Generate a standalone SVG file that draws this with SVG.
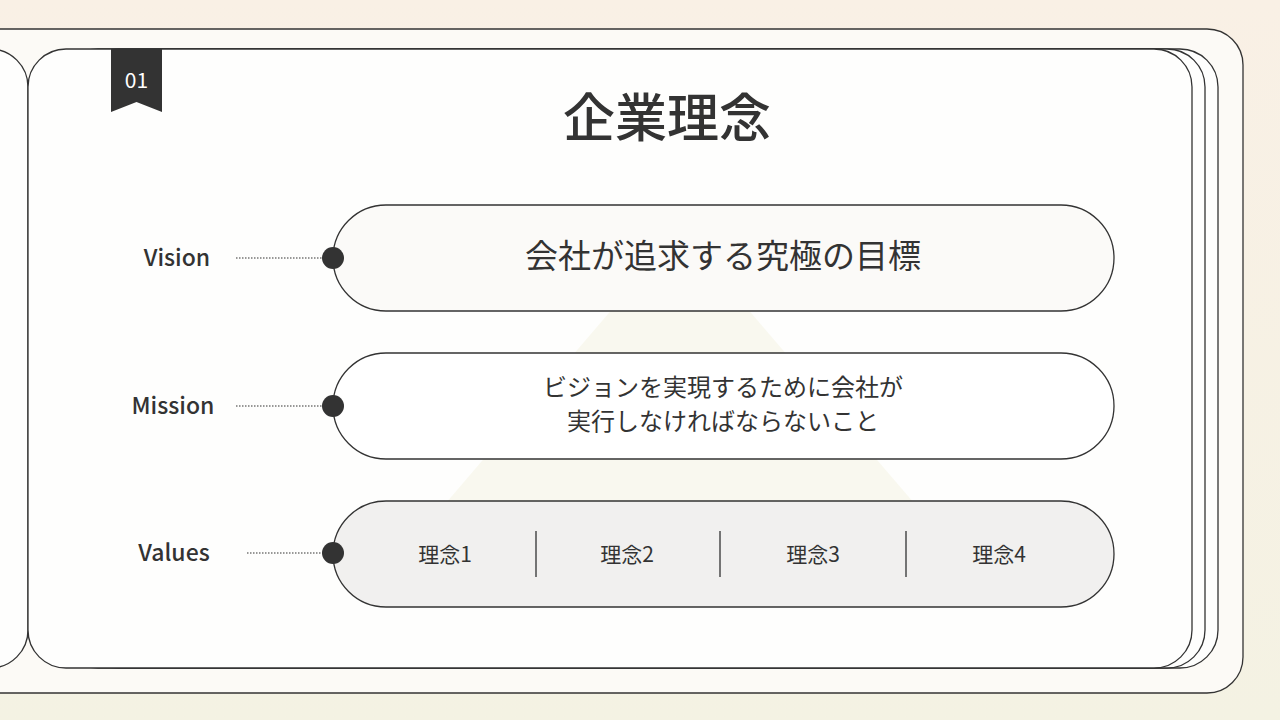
<svg xmlns="http://www.w3.org/2000/svg" width="1280" height="720" viewBox="0 0 1280 720">
  <defs>
    <linearGradient id="bg" x1="0" y1="0" x2="0" y2="1">
      <stop offset="0" stop-color="#f9f0e5"/>
      <stop offset="1" stop-color="#f4f2e3"/>
    </linearGradient>
    <style>
      .frame { stroke: #333333; stroke-width: 1.3; }
      .pill { stroke: #333333; stroke-width: 1.3; }
      .dot { fill: #333333; }
      .lead { stroke: #333333; stroke-width: 1.2; stroke-dasharray: 1.5 1.5; fill: none; }
      .label { font-family: "Noto Sans CJK JP", "Noto Sans", sans-serif; font-size: 23px; font-weight: 500; fill: #333333; text-anchor: middle; }
      .txt { font-family: "Noto Sans CJK JP", "Noto Sans", sans-serif; fill: #333333; text-anchor: middle; }
      .div { stroke: #555555; stroke-width: 1.6; }
    </style>
  </defs>

  <!-- background -->
  <rect x="0" y="0" width="1280" height="720" fill="url(#bg)"/>
  <rect class="frame" x="-60" y="29" width="1303" height="664" rx="36" fill="#fcfaf6"/>

  <!-- stacked cards -->
  <g id="cards">
    <rect class="frame" x="-400" y="49" width="428" height="619" rx="38" fill="#fefefd"/>
    <rect class="frame" x="80" y="49" width="1138" height="619" rx="38" fill="#fefefd"/>
    <rect class="frame" x="60" y="49" width="1145" height="619" rx="38" fill="#fefefd"/>
    <rect class="frame" x="28" y="49" width="1164" height="619" rx="38" fill="#fefefd"/>
  </g>

  <!-- faint pyramid -->
  <polygon points="680,230 440,510 920,510" fill="#f3f1d9" opacity="0.4"/>

  <!-- bookmark tag -->
  <g id="tag">
    <polygon points="111,49 162,49 162,112 136.5,102 111,112" fill="#333333"/>
    <text class="txt" x="136.5" y="88" font-size="21" style="fill:#ffffff">01</text>
  </g>

  <!-- title -->
  <g id="title">
    <text class="txt" x="667" y="137" font-size="52" font-weight="500">企業理念</text>
  </g>

  <!-- connectors -->
  <g id="connectors">
    <line class="lead" x1="236" y1="258" x2="324" y2="258"/>
    <line class="lead" x1="236" y1="406" x2="324" y2="406"/>
    <line class="lead" x1="247" y1="553" x2="324" y2="553"/>
  </g>

  <!-- Vision -->
  <g id="vision">
    <text class="label" x="177" y="266">Vision</text>
    <rect class="pill" x="333" y="205" width="781" height="106" rx="53" fill="#fbfaf8"/>
    <circle class="dot" cx="333" cy="258" r="11"/>
    <text class="txt" x="723" y="268" font-size="33">会社が追求する究極の目標</text>
  </g>

  <!-- Mission -->
  <g id="mission">
    <text class="label" x="173" y="414">Mission</text>
    <rect class="pill" x="333" y="353" width="781" height="106" rx="53" fill="#ffffff"/>
    <circle class="dot" cx="333" cy="406" r="11"/>
    <text class="txt" x="723" y="396" font-size="24">ビジョンを実現するために会社が</text>
    <text class="txt" x="723" y="430" font-size="24">実行しなければならないこと</text>
  </g>

  <!-- Values -->
  <g id="values">
    <text class="label" x="174" y="561">Values</text>
    <rect class="pill" x="333" y="501" width="781" height="106" rx="53" fill="#f1f0ef"/>
    <circle class="dot" cx="333" cy="553" r="11"/>
    <text class="txt" x="445" y="562" font-size="21">理念1</text>
    <line class="div" x1="536" y1="531" x2="536" y2="577"/>
    <text class="txt" x="627" y="562" font-size="21">理念2</text>
    <line class="div" x1="720" y1="531" x2="720" y2="577"/>
    <text class="txt" x="813" y="562" font-size="21">理念3</text>
    <line class="div" x1="906" y1="531" x2="906" y2="577"/>
    <text class="txt" x="999" y="562" font-size="21">理念4</text>
  </g>
</svg>
